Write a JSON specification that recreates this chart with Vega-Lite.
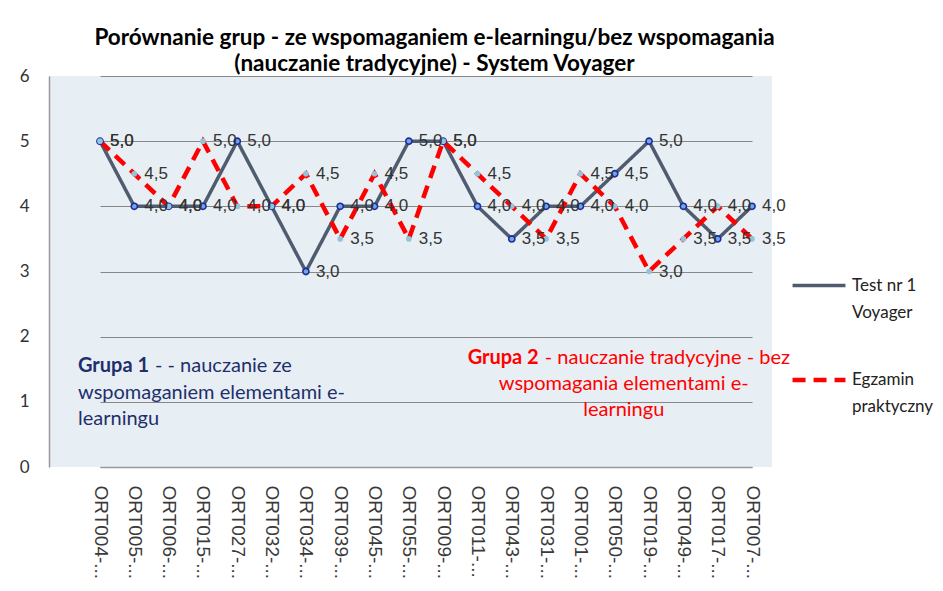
{
  "$schema": "https://vega.github.io/schema/vega-lite/v6.json",
  "width": 723,
  "height": 391,
  "autosize": "none",
  "padding": {"left": 49, "top": 76, "right": 171, "bottom": 124},
  "background": "white",
  "config": {
    "locale": {"number": {"decimal": ",", "thousands": " ", "grouping": [3], "currency": ["", " zł"]}},
    "view": {"fill": "#E8EFF4", "stroke": null},
    "font": "Lato",
    "style": {"guide-label": {"lineHeight": 27}}
  },
  "title": {
    "text": ["Porównanie grup - ze wspomaganiem e-learningu/bez wspomagania", "(nauczanie tradycyjne) - System Voyager"],
    "anchor": "middle",
    "dx": 24,
    "font": "Lato",
    "fontSize": 22.5,
    "fontWeight": "bold",
    "color": "#000000",
    "lineHeight": 26,
    "offset": -8
  },
  "datasets": {
    "oceny": [
      {"student": "ORT004-...", "seria": "Test nr 1 Voyager", "ocena": 5},
      {"student": "ORT005-...", "seria": "Test nr 1 Voyager", "ocena": 4},
      {"student": "ORT006-...", "seria": "Test nr 1 Voyager", "ocena": 4},
      {"student": "ORT015-...", "seria": "Test nr 1 Voyager", "ocena": 4},
      {"student": "ORT027-...", "seria": "Test nr 1 Voyager", "ocena": 5},
      {"student": "ORT032-...", "seria": "Test nr 1 Voyager", "ocena": 4},
      {"student": "ORT034-...", "seria": "Test nr 1 Voyager", "ocena": 3},
      {"student": "ORT039-...", "seria": "Test nr 1 Voyager", "ocena": 4},
      {"student": "ORT045-...", "seria": "Test nr 1 Voyager", "ocena": 4},
      {"student": "ORT055-...", "seria": "Test nr 1 Voyager", "ocena": 5},
      {"student": "ORT009-...", "seria": "Test nr 1 Voyager", "ocena": 5},
      {"student": "ORT011-...", "seria": "Test nr 1 Voyager", "ocena": 4},
      {"student": "ORT043-...", "seria": "Test nr 1 Voyager", "ocena": 3.5},
      {"student": "ORT031-...", "seria": "Test nr 1 Voyager", "ocena": 4},
      {"student": "ORT001-...", "seria": "Test nr 1 Voyager", "ocena": 4},
      {"student": "ORT050-...", "seria": "Test nr 1 Voyager", "ocena": 4.5},
      {"student": "ORT019-...", "seria": "Test nr 1 Voyager", "ocena": 5},
      {"student": "ORT049-...", "seria": "Test nr 1 Voyager", "ocena": 4},
      {"student": "ORT017-...", "seria": "Test nr 1 Voyager", "ocena": 3.5},
      {"student": "ORT007-...", "seria": "Test nr 1 Voyager", "ocena": 4},
      {"student": "ORT004-...", "seria": "Egzamin praktyczny", "ocena": 5},
      {"student": "ORT005-...", "seria": "Egzamin praktyczny", "ocena": 4.5},
      {"student": "ORT006-...", "seria": "Egzamin praktyczny", "ocena": 4},
      {"student": "ORT015-...", "seria": "Egzamin praktyczny", "ocena": 5},
      {"student": "ORT027-...", "seria": "Egzamin praktyczny", "ocena": 4},
      {"student": "ORT032-...", "seria": "Egzamin praktyczny", "ocena": 4},
      {"student": "ORT034-...", "seria": "Egzamin praktyczny", "ocena": 4.5},
      {"student": "ORT039-...", "seria": "Egzamin praktyczny", "ocena": 3.5},
      {"student": "ORT045-...", "seria": "Egzamin praktyczny", "ocena": 4.5},
      {"student": "ORT055-...", "seria": "Egzamin praktyczny", "ocena": 3.5},
      {"student": "ORT009-...", "seria": "Egzamin praktyczny", "ocena": 5},
      {"student": "ORT011-...", "seria": "Egzamin praktyczny", "ocena": 4.5},
      {"student": "ORT043-...", "seria": "Egzamin praktyczny", "ocena": 4},
      {"student": "ORT031-...", "seria": "Egzamin praktyczny", "ocena": 3.5},
      {"student": "ORT001-...", "seria": "Egzamin praktyczny", "ocena": 4.5},
      {"student": "ORT050-...", "seria": "Egzamin praktyczny", "ocena": 4},
      {"student": "ORT019-...", "seria": "Egzamin praktyczny", "ocena": 3},
      {"student": "ORT049-...", "seria": "Egzamin praktyczny", "ocena": 3.5},
      {"student": "ORT017-...", "seria": "Egzamin praktyczny", "ocena": 4},
      {"student": "ORT007-...", "seria": "Egzamin praktyczny", "ocena": 3.5}
    ],
    "opis": [{"uwaga": "adnotacja"}]
  },
  "layer": [
    {
      "data": {"name": "oceny"},
      "encoding": {
        "x": {
          "field": "student",
          "type": "nominal",
          "sort": null,
          "scale": {"type": "point", "range": [51, 703], "padding": 0},
          "axis": {
            "title": null,
            "labelAngle": 90,
            "labelFont": "Liberation Sans",
            "labelFontSize": 19,
            "labelColor": "#3A3A3A",
            "labelPadding": 18,
            "labelLimit": 200,
            "ticks": false,
            "grid": false,
            "domainColor": "#999999",
            "domainWidth": 1.5
          }
        },
        "y": {
          "field": "ocena",
          "type": "quantitative",
          "scale": {"domain": [0, 6], "nice": false},
          "axis": {
            "title": null,
            "values": [0, 1, 2, 3, 4, 5, 6],
            "format": "d",
            "labelFont": "Lato",
            "labelFontSize": 17,
            "labelColor": "#333333",
            "labelPadding": 20,
            "ticks": false,
            "gridColor": "#888888",
            "gridWidth": 1.2,
            "domainColor": "#999999",
            "domainWidth": 1.5
          }
        }
      },
      "layer": [
        {
          "mark": {"type": "line"},
          "encoding": {
            "color": {
              "field": "seria",
              "type": "nominal",
              "scale": {"domain": ["Test nr 1 Voyager", "Egzamin praktyczny"], "range": ["#4F5B6E", "#FF0000"]},
              "legend": {
                "title": null,
                "orient": "none",
                "legendX": 741,
                "legendY": 181,
                "symbolType": "stroke",
                "symbolSize": 2800,
                "symbolStrokeWidth": 4,
                "labelExpr": "datum.label == 'Test nr 1 Voyager' ? ['Test nr 1', 'Voyager'] : ['Egzamin', 'praktyczny']",
                "labelFont": "Lato",
                "labelFontSize": 17,
                "labelColor": "#222222",
                "labelLimit": 200,
                "labelBaseline": "middle",
                "rowPadding": 30
              }
            },
            "strokeDash": {
              "field": "seria",
              "type": "nominal",
              "scale": {"domain": ["Test nr 1 Voyager", "Egzamin praktyczny"], "range": [[1, 0], [13, 8]]},
              "legend": null
            },
            "strokeWidth": {
              "field": "seria",
              "type": "nominal",
              "scale": {"domain": ["Test nr 1 Voyager", "Egzamin praktyczny"], "range": [3.5, 4.5]},
              "legend": null
            }
          }
        },
        {
          "transform": [{"filter": "datum.seria == 'Test nr 1 Voyager'"}],
          "mark": {"type": "point", "filled": true, "fill": "#6FA8DC", "stroke": "#1E2A9E", "strokeWidth": 1.6, "size": 38, "opacity": 1}
        },
        {
          "transform": [{"filter": "datum.seria == 'Egzamin praktyczny'"}],
          "mark": {"type": "point", "filled": true, "fill": "#92C5DA", "strokeWidth": 0, "size": 32, "opacity": 1}
        },
        {
          "mark": {"type": "text", "align": "left", "baseline": "middle", "dx": 10, "font": "Liberation Sans", "fontSize": 17, "color": "#333333"},
          "encoding": {"text": {"field": "ocena", "type": "quantitative", "format": ".1f"}}
        }
      ]
    },
    {
      "data": {"name": "opis"},
      "mark": {"type": "text", "align": "left", "baseline": "middle", "dx": -22, "font": "Lato", "fontSize": 20, "fontWeight": "bold", "color": "#1F2F6B", "text": "Grupa 1"},
      "encoding": {"x": {"datum": "ORT004-..."}, "y": {"datum": 1.55}}
    },
    {
      "data": {"name": "opis"},
      "mark": {"type": "text", "align": "left", "baseline": "middle", "dx": 55, "font": "Lato", "fontSize": 20, "color": "#1F2F6B", "text": "-  - nauczanie ze"},
      "encoding": {"x": {"datum": "ORT004-..."}, "y": {"datum": 1.55}}
    },
    {
      "data": {"name": "opis"},
      "mark": {"type": "text", "align": "left", "baseline": "middle", "dx": -22, "font": "Lato", "fontSize": 20, "color": "#1F2F6B", "lineHeight": 26.5, "text": ["wspomaganiem elementami e-", "learningu"]},
      "encoding": {"x": {"datum": "ORT004-..."}, "y": {"datum": 1.14}}
    },
    {
      "data": {"name": "opis"},
      "mark": {"type": "text", "align": "right", "baseline": "middle", "dx": -76, "font": "Lato", "fontSize": 20, "fontWeight": "bold", "color": "#FF0000", "text": "Grupa 2"},
      "encoding": {"x": {"datum": "ORT050-..."}, "y": {"datum": 1.68}}
    },
    {
      "data": {"name": "opis"},
      "mark": {"type": "text", "align": "left", "baseline": "middle", "dx": -70, "font": "Lato", "fontSize": 20, "color": "#FF0000", "text": "- nauczanie tradycyjne - bez"},
      "encoding": {"x": {"datum": "ORT050-..."}, "y": {"datum": 1.68}}
    },
    {
      "data": {"name": "opis"},
      "mark": {"type": "text", "align": "center", "baseline": "middle", "dx": 9, "font": "Lato", "fontSize": 20, "color": "#FF0000", "lineHeight": 26.5, "text": ["wspomagania elementami e-", "learningu"]},
      "encoding": {"x": {"datum": "ORT050-..."}, "y": {"datum": 1.28}}
    }
  ]
}
